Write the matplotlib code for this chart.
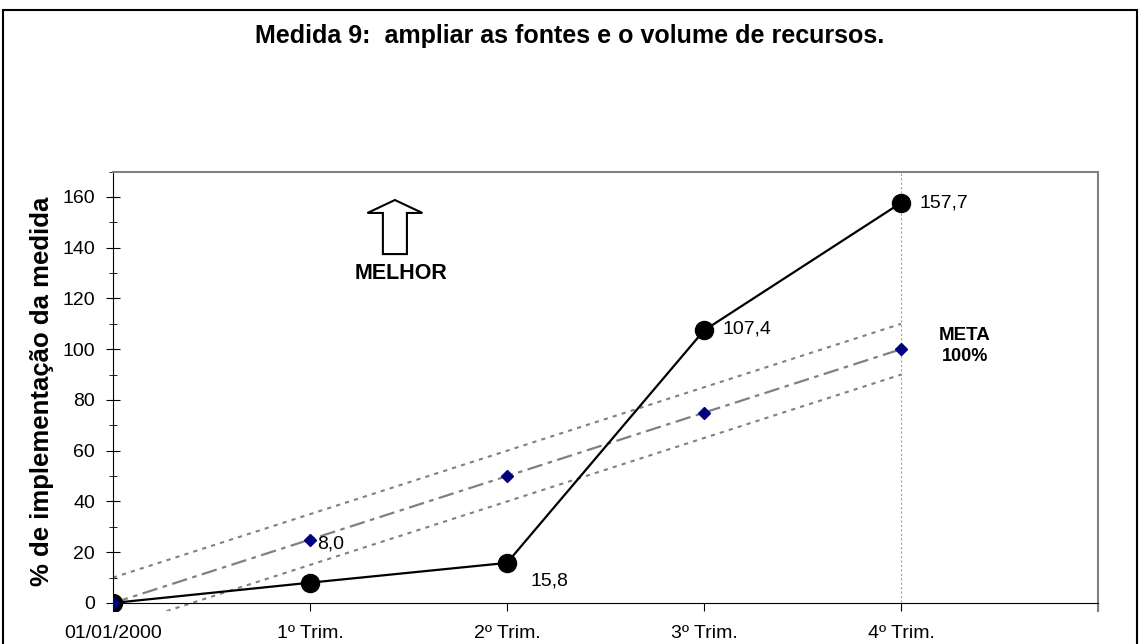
import matplotlib.pyplot as plt
from matplotlib.patches import Rectangle, FancyArrow

plt.rcParams['font.family'] = ['Liberation Sans', 'DejaVu Sans']

# periods on the x axis
periodos = ['01/01/2000', '1º Trim.', '2º Trim.', '3º Trim.', '4º Trim.']
# realised implementation (%)
realizado = [0, 8.0, 15.8, 107.4, 157.7]
# planned target and its tolerance band
meta = [0, 25, 50, 75, 100]
faixa_sup = [10, 35, 60, 85, 110]
faixa_inf = [-10, 15, 40, 65, 90]

# label offsets (points) for the realised values
desloc = [None, (5, 28), (17, -13), (13, 1), (13, 0)]

x = list(range(len(periodos)))
cinza = '#808080'

fig = plt.figure(figsize=(11.4, 6.44), dpi=100)
ax = fig.add_axes([113 / 1140, 1 - 610.6 / 644, 985 / 1140, (610.6 - 171.6) / 644])

# outer frame of the whole chart
fig.patches.append(Rectangle((0.003, -0.02), 0.994, 1.005, transform=fig.transFigure,
                             fill=False, ec='black', lw=1.5))

ax.set_xlim(0, 5)
ax.set_ylim(-3, 170)

# target band
ax.plot(x, faixa_sup, color=cinza, lw=1.5, ls=(0, (2, 2.5)), zorder=2)
ax.plot(x, faixa_inf, color=cinza, lw=1.5, ls=(0, (2, 2.5)), zorder=2)
ax.plot(x, meta, color=cinza, lw=1.6, ls=(0, (7, 2.5, 2, 2.5)), zorder=2)

# vertical reference at the last quarter
ax.axvline(4, color='#a0a0a0', lw=0.8, ls=(0, (2, 2)), zorder=1)

# realised series
ax.plot(x, realizado, color='black', lw=1.6, marker='o', ms=13, zorder=4)
ax.plot(x, meta, ls='none', marker='D', ms=6, color='#000080', zorder=5)

for xi, v, d in zip(x, realizado, desloc):
    if d is None:
        continue
    ax.annotate(f'{v:.1f}'.replace('.', ','), (xi, v), xytext=d,
                textcoords='offset points', ha='left', va='center', fontsize=14)

# META label
ax.text(4.325, 105.6, 'META', ha='center', va='center', fontsize=13.5, fontweight='bold')
ax.text(4.325, 97, '100%', ha='center', va='center', fontsize=13, fontweight='bold')

# "better" arrow
ax.add_patch(FancyArrow(1.431, 137.5, 0, 21.3, width=0.122, head_width=0.279,
                        head_length=5.1, length_includes_head=True,
                        fc='white', ec='black', lw=1.5, zorder=3))
ax.text(1.46, 130, 'MELHOR', ha='center', va='center', fontsize=15.5, fontweight='bold')

# axes styling
ax.spines['left'].set_color('black')
ax.spines['left'].set_bounds(0, 170)
ax.spines['bottom'].set_position(('data', 0))
ax.spines['bottom'].set_color('black')
for s in ('top', 'right'):
    ax.spines[s].set_color(cinza)
    ax.spines[s].set_linewidth(1.5)

ax.set_yticks(range(0, 161, 20))
ax.set_yticks(range(0, 171, 10), minor=True)
ax.tick_params(axis='y', which='major', direction='inout', length=10, labelsize=14, pad=8)
ax.tick_params(axis='y', which='minor', direction='inout', length=6)
ax.set_xticks(range(6))
ax.set_xticklabels(periodos + [''])
ax.tick_params(axis='x', direction='out', length=6, labelsize=14, pad=10)

ax.set_ylabel('% de implementação da medida', fontsize=18.5, fontweight='bold', labelpad=6)

fig.text(0.5, 1 - 36 / 644, 'Medida 9:  ampliar as fontes e o volume de recursos.',
         ha='center', va='center', fontsize=18, fontweight='bold')

fig.savefig('out.png', dpi=100)
